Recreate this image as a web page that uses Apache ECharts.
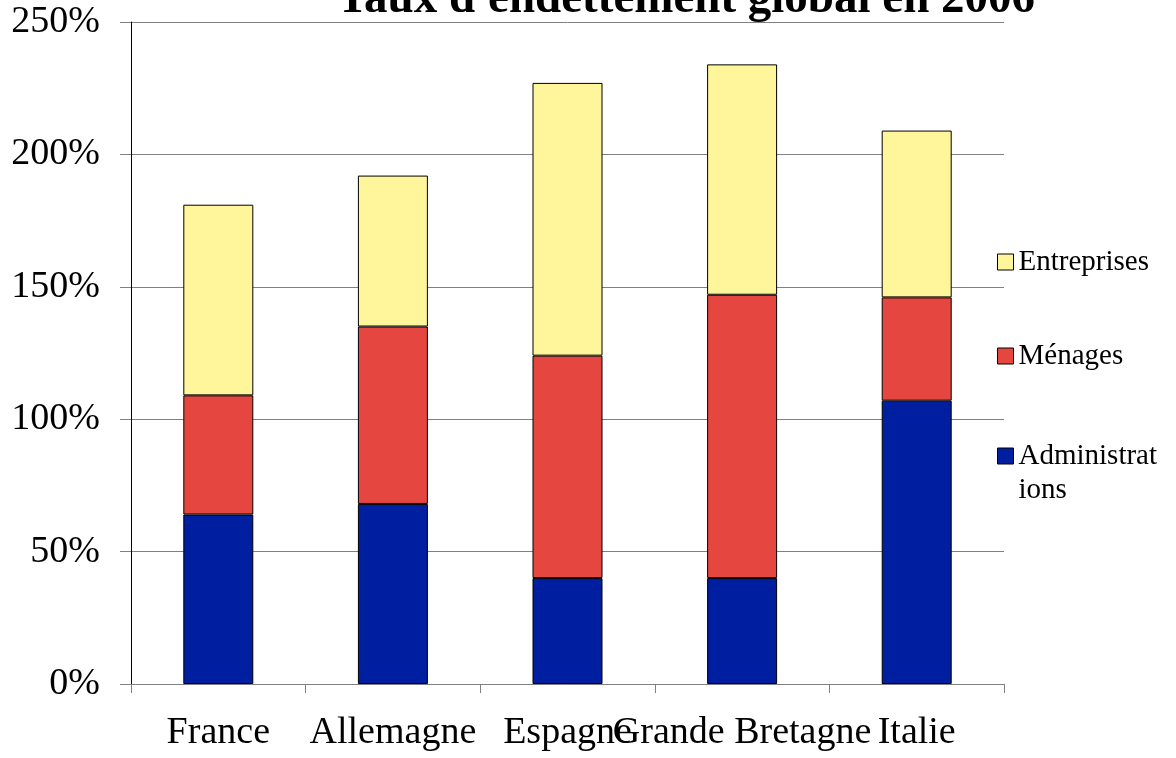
<!DOCTYPE html>
<html>
<head>
<meta charset="utf-8">
<script src="https://cdn.jsdelivr.net/npm/echarts@6/dist/echarts.min.js"></script>
<style>
  html, body { margin: 0; padding: 0; background: #fff; }
  #chart { width: 1176px; height: 758px; }
</style>
</head>
<body>
<div id="chart"></div>
<script>
const title = "Taux d'endettement global en 2006";
const categories = ['France', 'Allemagne', 'Espagne', 'Grande Bretagne', 'Italie'];
const administrations = [64, 68, 40, 40, 107];
const menages = [45, 67, 84, 107, 39];
const entreprises = [72, 57, 103, 87, 63];
const yTicks = [0, 50, 100, 150, 200, 250];

const FONT = '"Liberation Serif", "Times New Roman", serif';
const colors = { adm: '#001EA0', men: '#E64640', ent: '#FFF59B' };

const chart = echarts.init(document.getElementById('chart'));

function legendAt(name, color, top, rich) {
  return {
    orient: 'vertical',
    left: 997,
    top: top,
    padding: 0,
    itemWidth: 16,
    itemHeight: 16,
    icon: 'rect',
    selectedMode: false,
    data: [{ name: name, itemStyle: { color: color, borderColor: '#000', borderWidth: 1 } }],
    formatter: rich ? function () { return '{a| }\n{a|Administrat}\n{a|ions}'; } : undefined,
    textStyle: {
      fontFamily: FONT, fontSize: 29, color: '#000', lineHeight: 34,
      rich: { a: { fontFamily: FONT, fontSize: 29, color: '#000', lineHeight: 34 } }
    }
  };
}

const option = {
  backgroundColor: '#fff',
  animation: false,
  graphic: [{
    type: 'text',
    x: 686,
    y: 0,
    style: {
      text: title,
      font: 'bold 47px ' + FONT,
      fill: '#000',
      textAlign: 'center',
      textVerticalAlign: 'middle'
    }
  }],
  legend: [
    legendAt('Entreprises', colors.ent, 245, false),
    legendAt('Ménages', colors.men, 339, false),
    legendAt('Administrations', colors.adm, 405, true)
  ],
  grid: { left: 131, right: 172, top: 22, bottom: 74, containLabel: false },
  xAxis: {
    type: 'category',
    data: categories,
    boundaryGap: true,
    axisLine: { show: true, lineStyle: { color: '#808080', width: 1 } },
    axisTick: { show: true, alignWithLabel: false, length: 9, lineStyle: { color: '#808080' } },
    axisLabel: { fontFamily: FONT, fontSize: 38, color: '#000', margin: 30, interval: 0, hideOverlap: false }
  },
  yAxis: {
    type: 'value',
    min: yTicks[0],
    max: yTicks[yTicks.length - 1],
    interval: 50,
    axisLine: { show: true, lineStyle: { color: '#000', width: 1 } },
    axisTick: { show: true, length: 11, lineStyle: { color: '#808080' } },
    axisLabel: { fontFamily: FONT, fontSize: 38, color: '#000', margin: 31, formatter: '{value}%' },
    splitLine: { show: true, lineStyle: { color: '#808080', width: 1 } }
  },
  series: [
    { name: 'Administrations', type: 'bar', stack: 'total', data: administrations, barWidth: 70,
      itemStyle: { color: colors.adm, borderColor: '#000', borderWidth: 1 } },
    { name: 'Ménages', type: 'bar', stack: 'total', data: menages, barWidth: 70,
      itemStyle: { color: colors.men, borderColor: '#000', borderWidth: 1 } },
    { name: 'Entreprises', type: 'bar', stack: 'total', data: entreprises, barWidth: 70,
      itemStyle: { color: colors.ent, borderColor: '#000', borderWidth: 1 } }
  ]
};
chart.setOption(option);
</script>
</body>
</html>
